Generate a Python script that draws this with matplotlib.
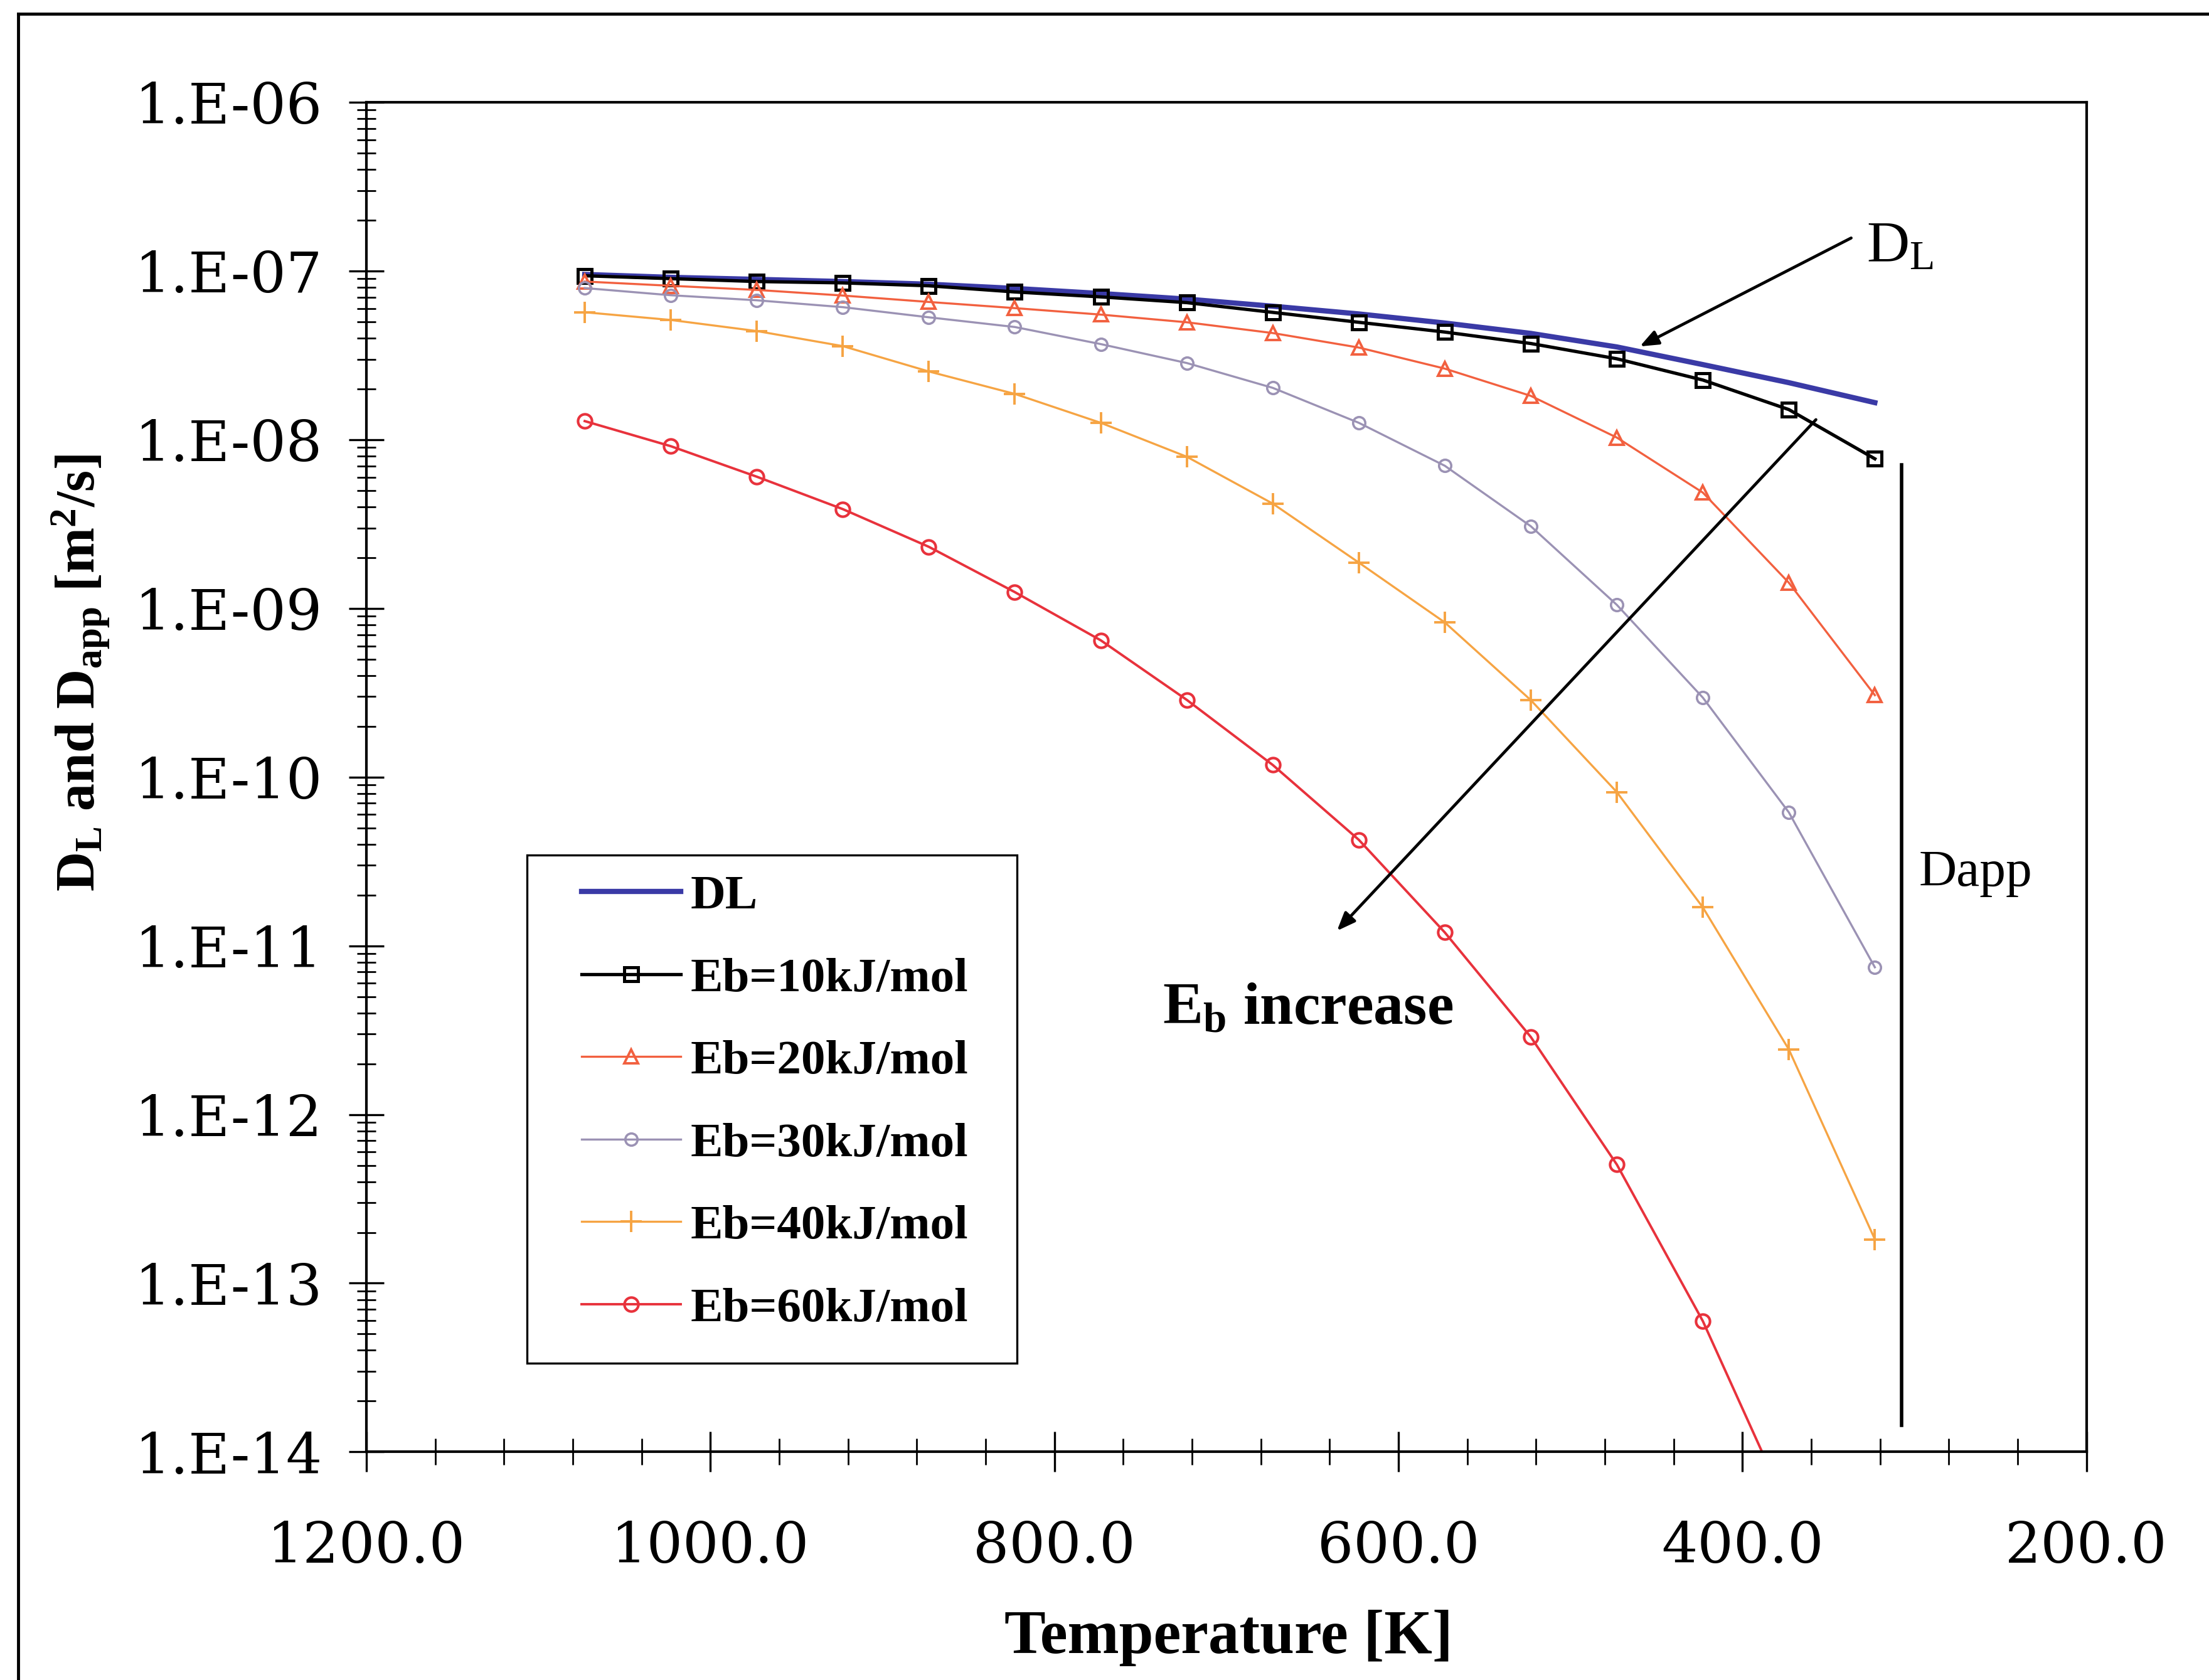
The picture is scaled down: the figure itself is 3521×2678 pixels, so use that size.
import matplotlib
matplotlib.use('Agg')
import math
import matplotlib.pyplot as plt
from matplotlib.ticker import MultipleLocator, LogLocator, FuncFormatter
from matplotlib.lines import Line2D
from matplotlib.patches import Rectangle

# ---------------- data ----------------
temperature_K = [1073, 1023, 973, 923, 873, 823, 773, 723, 673, 623, 573, 523, 473, 423, 373, 323]
D_L = [9.55e-8, 9.18e-8, 8.93e-8, 8.67e-8, 8.36e-8, 7.89e-8, 7.36e-8, 6.82e-8,
       6.19e-8, 5.57e-8, 4.92e-8, 4.27e-8, 3.55e-8, 2.79e-8, 2.18e-8, 1.66e-8]
Dapp_Eb10 = [9.38e-8, 9.02e-8, 8.67e-8, 8.51e-8, 8.18e-8, 7.52e-8, 7.03e-8, 6.50e-8,
             5.69e-8, 4.97e-8, 4.35e-8, 3.72e-8, 3.02e-8, 2.26e-8, 1.51e-8, 7.71e-9]
Dapp_Eb20 = [8.67e-8, 8.18e-8, 7.73e-8, 7.16e-8, 6.56e-8, 6.03e-8, 5.52e-8, 4.97e-8,
             4.29e-8, 3.52e-8, 2.64e-8, 1.82e-8, 1.03e-8, 4.86e-9, 1.42e-9, 3.06e-10]
Dapp_Eb30 = [7.93e-8, 7.19e-8, 6.71e-8, 6.11e-8, 5.32e-8, 4.66e-8, 3.69e-8, 2.85e-8,
             2.03e-8, 1.26e-8, 7.01e-9, 3.07e-9, 1.05e-9, 2.96e-10, 6.18e-11, 7.46e-12]
Dapp_Eb40 = [5.70e-8, 5.13e-8, 4.41e-8, 3.59e-8, 2.54e-8, 1.87e-8, 1.26e-8, 7.93e-9,
             4.18e-9, 1.87e-9, 8.26e-10, 2.86e-10, 8.15e-11, 1.69e-11, 2.43e-12, 1.82e-13]
Dapp_Eb60 = [1.29e-8, 9.16e-9, 6.04e-9, 3.88e-9, 2.32e-9, 1.25e-9, 6.47e-10, 2.87e-10,
             1.18e-10, 4.25e-11, 1.20e-11, 2.88e-12, 5.05e-13, 5.96e-14, 4.46e-15, 5.8e-17]

series_labels = ['DL', 'Eb=10kJ/mol', 'Eb=20kJ/mol', 'Eb=30kJ/mol', 'Eb=40kJ/mol', 'Eb=60kJ/mol']
x_limits = (1200, 200)
y_limits = (1e-14, 1e-6)

# ---------------- style ----------------
plt.rcParams['font.family'] = ['DejaVu Serif']
plt.rcParams['mathtext.fontset'] = 'custom'
plt.rcParams['mathtext.rm'] = 'Liberation Serif'
plt.rcParams['mathtext.bf'] = 'Liberation Serif:bold'
plt.rcParams['mathtext.it'] = 'Liberation Serif:italic'

W, H = 1568.0, 1193.0  # reference (shrunk) pixel frame used for layout


def fx(px):
    return px / W


def fy(py):
    return 1 - py / H


fig = plt.figure(figsize=(35.21, 26.78), dpi=100)
fig.patch.set_facecolor('white')
ax = fig.add_axes([fx(260), fy(1031), fx(1481) - fx(260), fy(72.7) - fy(1031)])

styles = [
    dict(color='#3a3aa6', lw=6.0, marker=None),
    dict(color='black', lw=3.8, marker='s', ms=16, mfc='none', mew=3.6),
    dict(color='#f2603f', lw=2.4, marker='^', ms=16, mfc='none', mew=2.8),
    dict(color='#9b92b4', lw=2.4, marker='o', ms=14, mfc='none', mew=2.6),
    dict(color='#f6a443', lw=2.4, marker='+', ms=25, mew=2.8),
    dict(color='#e8323c', lw=2.8, marker='o', ms=16, mfc='none', mew=3.0),
]
all_series = [D_L, Dapp_Eb10, Dapp_Eb20, Dapp_Eb30, Dapp_Eb40, Dapp_Eb60]
handles = []
for vals, lab, st in zip(all_series, series_labels, styles):
    h, = ax.plot(temperature_K, vals, label=lab, **st)
    handles.append(h)

ax.set_xlim(*x_limits)
ax.set_yscale('log')
ax.set_ylim(*y_limits)

ax.xaxis.set_major_locator(MultipleLocator(200))
ax.xaxis.set_minor_locator(MultipleLocator(40))
ax.xaxis.set_major_formatter(FuncFormatter(lambda v, p: f'{v:.1f}'))
ax.yaxis.set_major_locator(LogLocator(base=10, numticks=20))
ax.yaxis.set_minor_locator(LogLocator(base=10, subs=range(2, 10), numticks=200))
ax.yaxis.set_major_formatter(FuncFormatter(lambda v, p: '1.E-%02d' % round(-math.log10(v))))

ax.tick_params(axis='x', which='major', direction='inout', length=46, width=2.4,
               labelsize=65, pad=55, top=False)
ax.tick_params(axis='x', which='minor', direction='inout', length=30, width=2.0, top=False)
ax.tick_params(axis='y', which='major', direction='inout', length=40, width=2.4,
               labelsize=65, pad=30, right=False)
ax.tick_params(axis='y', which='minor', direction='inout', length=22, width=2.0, right=False)
for sp in ax.spines.values():
    sp.set_linewidth(3.0)

ax.set_xlabel('Temperature [K]', family='Liberation Serif', weight='bold', fontsize=71,
              va='center')
ax.xaxis.set_label_coords((872 - 260) / 1221.0, (1031 - 1163) / 958.3)
ax.set_ylabel(r'D$_\mathbf{L}$ and D$_\mathbf{app}$ [m$^\mathbf{2}$/s]', family='Liberation Serif',
              weight='bold', fontsize=63, va='center')
ax.yaxis.set_label_coords((57 - 260) / 1221.0, (1031 - 478) / 958.3)


def ax_xy(px, py):
    return ((px - 260) / 1221.0, (1031 - py) / 958.3)


# legend (content) + its frame
leg = ax.legend(handles=handles, loc='upper left', bbox_to_anchor=(fx(413), fy(621)),
                bbox_transform=fig.transFigure, frameon=False, borderpad=0, borderaxespad=0,
                handlelength=2.05, handletextpad=0.2, labelspacing=0.8,
                prop=dict(family='Liberation Serif', weight='bold', size=55.5))
ax.add_patch(Rectangle((fx(374), fy(968)), fx(722) - fx(374), fy(607) - fy(968),
                       transform=fig.transFigure, fill=False, ec='black', lw=2.4,
                       zorder=6, clip_on=False))

# annotations
arrow_kw = dict(arrowstyle='-|>,head_length=0.55,head_width=0.22', color='black', lw=3.4,
                shrinkA=0, shrinkB=0, mutation_scale=32)
ax.annotate('', xy=ax_xy(1164, 246), xytext=ax_xy(1314, 169), xycoords='axes fraction',
            textcoords='axes fraction', arrowprops=arrow_kw)
ax.annotate('', xy=ax_xy(949, 661), xytext=ax_xy(1289, 298), xycoords='axes fraction',
            textcoords='axes fraction', arrowprops=arrow_kw)
ax.text(*ax_xy(1325, 186), r'D$_\mathrm{L}$', transform=ax.transAxes, family='Liberation Serif',
        fontsize=68, ha='left', va='baseline')
ax.text(*ax_xy(1362, 629), 'Dapp', transform=ax.transAxes, family='Liberation Serif',
        fontsize=60, ha='left', va='baseline')
ax.text(*ax_xy(825, 727), r'E$_\mathbf{b}$ increase', transform=ax.transAxes,
        family='Liberation Serif', weight='bold', fontsize=69, ha='left', va='baseline')
ax.add_line(Line2D([ax_xy(1350, 0)[0]] * 2, [ax_xy(0, 330)[1], ax_xy(0, 1012)[1]],
                   transform=ax.transAxes, color='black', lw=4.0, clip_on=False))

# outer frame of the scanned figure
fig.add_artist(Line2D([fx(13), fx(13)], [0, fy(10)], transform=fig.transFigure, color='black', lw=3.5))
fig.add_artist(Line2D([fx(13), 1], [fy(10), fy(10)], transform=fig.transFigure, color='black', lw=3.5))

fig.savefig('out.png', dpi=100, facecolor='white')
